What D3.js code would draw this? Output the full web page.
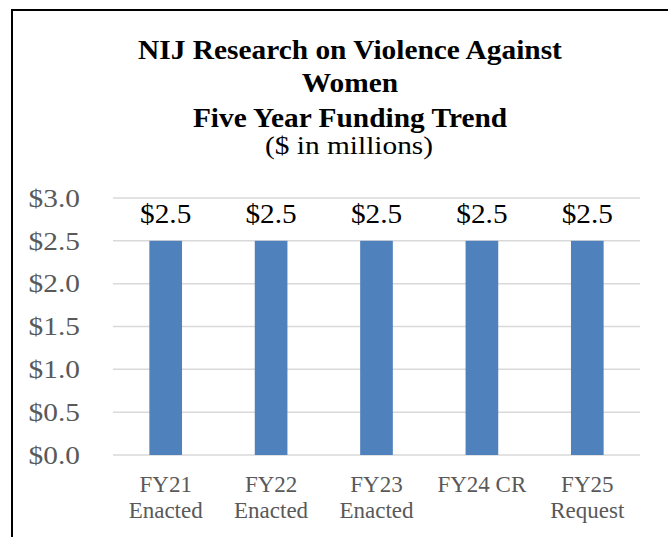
<!DOCTYPE html>
<html>
<head>
<meta charset="utf-8">
<script src="https://cdn.jsdelivr.net/npm/d3@7"></script>
<style>
  html, body { margin: 0; padding: 0; background: #fff; }
  svg { display: block; }
  text { font-family: "Liberation Serif", "Times New Roman", serif; }
</style>
</head>
<body>
<svg id="chart" width="668" height="537"></svg>
<script>
const categories = [["FY21", "Enacted"], ["FY22", "Enacted"], ["FY23", "Enacted"], ["FY24 CR"], ["FY25", "Request"]];
const values = [2.5, 2.5, 2.5, 2.5, 2.5];
const yTicks = [0, 0.5, 1.0, 1.5, 2.0, 2.5, 3.0];
const titleLines = ["NIJ Research on Violence Against", "Women", "Five Year Funding Trend"];
const subtitle = "($ in millions)";

const svg = d3.select("#chart");
const W = 668, H = 537;
const m = { left: 113, right: 28, top: 198, bottom: 82 };

// outer border
svg.append("rect").attr("x", 12).attr("y", 10).attr("width", 700).attr("height", 600)
  .attr("fill", "none").attr("stroke", "#000").attr("stroke-width", 2);

const x = d3.scaleBand().domain(categories.map((d, i) => i))
  .range([m.left, W - m.right]).paddingInner(0.69).paddingOuter(0.345);
const y = d3.scaleLinear().domain([0, 3]).range([H - m.bottom, m.top]);

// gridlines
svg.append("g").selectAll("line").data(yTicks).join("line")
  .attr("x1", m.left).attr("x2", W - m.right)
  .attr("y1", d => y(d)).attr("y2", d => y(d))
  .attr("stroke", "#d9d9d9").attr("stroke-width", 1.5);

// y axis labels
const yAxis = d3.axisLeft(y).tickValues(yTicks).tickSize(0).tickPadding(0)
  .tickFormat(d => "$" + d3.format(".1f")(d));
const ga = svg.append("g").attr("transform", `translate(80,0)`).call(yAxis);
ga.select(".domain").remove();
ga.selectAll("text").attr("font-size", 26).attr("fill", "#595959")
  .attr("font-family", "Liberation Serif, serif").attr("dy", "0.32em")
  .attr("x", 0).attr("transform", "scale(1.13,1)");

// bars
svg.append("g").selectAll("rect").data(values).join("rect")
  .attr("x", (d, i) => x(i)).attr("width", x.bandwidth())
  .attr("y", d => y(d)).attr("height", d => y(0) - y(d))
  .attr("fill", "#4f81bd");

// data labels
svg.append("g").selectAll("text").data(values).join("text")
  .attr("transform", (d, i) => `translate(${x(i) + x.bandwidth() / 2},${y(d) - 18}) scale(1.085,1)`)
  .attr("text-anchor", "middle").attr("font-size", 27).attr("fill", "#000")
  .text(d => "$" + d3.format(".1f")(d));

// x labels
const xl = svg.append("g").selectAll("text").data(categories).join("text")
  .attr("x", (d, i) => x(i) + x.bandwidth() / 2).attr("y", 492)
  .attr("text-anchor", "middle").attr("font-size", 23).attr("fill", "#595959");
xl.selectAll("tspan").data(d => d).join("tspan")
  .attr("x", function() { return d3.select(this.parentNode).attr("x"); })
  .attr("dy", (d, i) => i === 0 ? 0 : 26)
  .text(d => d);

// title
const tY = [59, 92, 127];
svg.append("g").selectAll("text").data(titleLines).join("text")
  .attr("transform", (d, i) => `translate(350,${tY[i]}) scale(1.05,1)`)
  .attr("text-anchor", "middle").attr("font-size", 28).attr("font-weight", "bold")
  .attr("fill", "#000").text(d => d);
svg.append("text").attr("transform", "translate(349,154) scale(1.13,1)").attr("text-anchor", "middle")
  .attr("font-size", 26).attr("fill", "#000").text(subtitle);
</script>
</body>
</html>
